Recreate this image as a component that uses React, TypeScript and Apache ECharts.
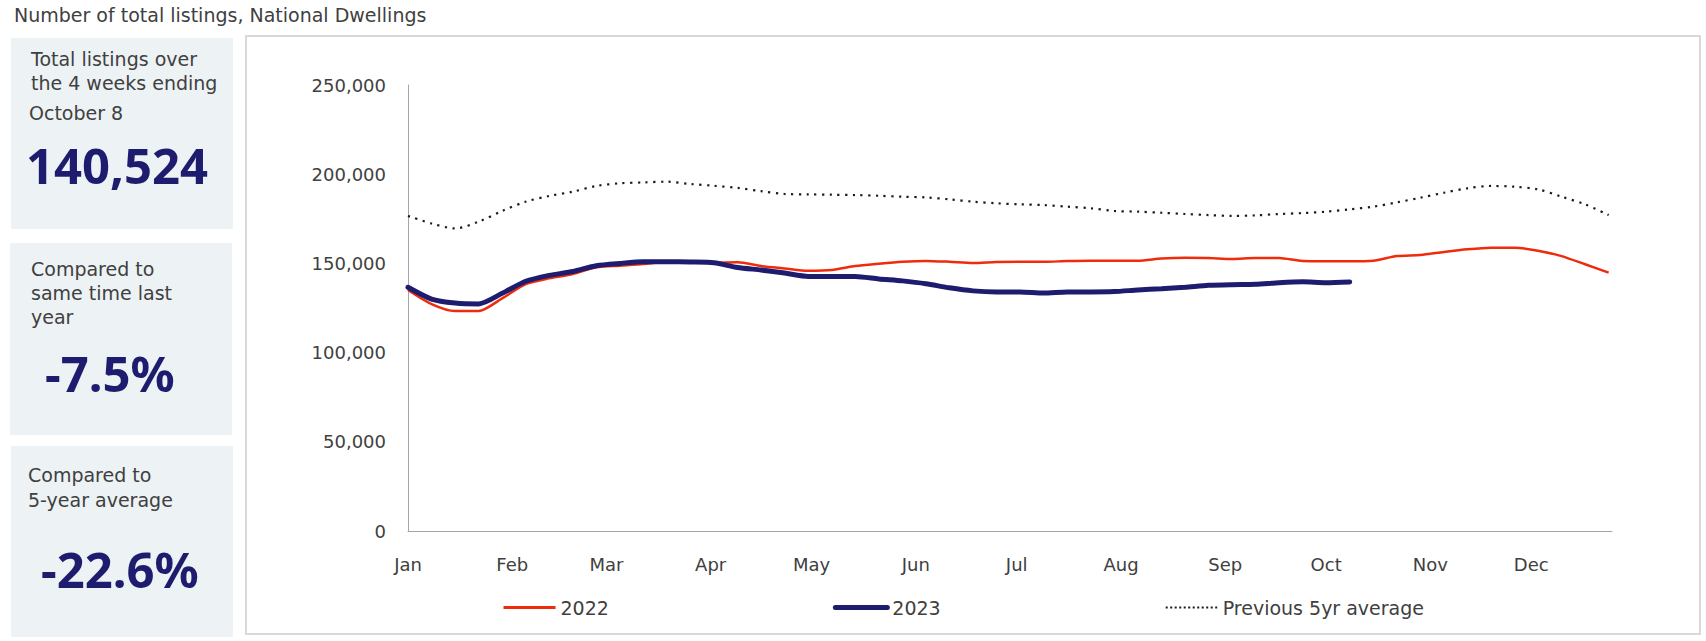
import React, { useEffect, useRef } from "react";
import * as echarts from "echarts";

const weeks = [
  "2023-01-01", "2023-01-08", "2023-01-15", "2023-01-22", "2023-01-29",
  "2023-02-05", "2023-02-12", "2023-02-19", "2023-02-26",
  "2023-03-05", "2023-03-12", "2023-03-19", "2023-03-26",
  "2023-04-02", "2023-04-09", "2023-04-16", "2023-04-23", "2023-04-30",
  "2023-05-07", "2023-05-14", "2023-05-21", "2023-05-28",
  "2023-06-04", "2023-06-11", "2023-06-18", "2023-06-25",
  "2023-07-02", "2023-07-09", "2023-07-16", "2023-07-23", "2023-07-30",
  "2023-08-06", "2023-08-13", "2023-08-20", "2023-08-27",
  "2023-09-03", "2023-09-10", "2023-09-17", "2023-09-24",
  "2023-10-01", "2023-10-08", "2023-10-15", "2023-10-22", "2023-10-29",
  "2023-11-05", "2023-11-12", "2023-11-19", "2023-11-26",
  "2023-12-03", "2023-12-10", "2023-12-17", "2023-12-24",
];

const listings2022 = [
  135100, 127200, 123300, 123300, 130400, 138400, 141600, 144000, 147800,
  148700, 149600, 150900, 150900, 150400, 150600, 148500, 147200, 145900,
  146300, 148500, 149800, 150900, 151400, 150900, 150200, 150800, 150900,
  150900, 151300, 151500, 151500, 151500, 152700, 153200, 153000, 152500,
  153000, 153000, 151300, 151200, 151200, 151500, 154100, 154700, 156400,
  157900, 158800, 158800, 157100, 154100, 149500, 144800,
];

const listings2023 = [
  136600, 130000, 127800, 127300, 133200, 140000, 143300, 145500, 148700,
  150000, 150900, 150900, 150800, 150400, 147700, 146300, 144600, 142700,
  142700, 142700, 141300, 140200, 138600, 136300, 134600, 134000, 134000,
  133400, 134000, 134000, 134200, 135100, 135800, 136600, 137700, 138100,
  138300, 139200, 139700, 139200, 139600,
];

const avg5yr = [
  176600, 172400, 169600, 173400, 179400, 184600, 187800, 190200, 193400,
  194900, 195400, 195800, 194500, 193500, 192300, 190500, 188900, 188700,
  188500, 188300, 187900, 187400, 187000, 185900, 184600, 183700, 183100,
  182700, 181800, 180900, 179400, 179000, 178400, 177700, 177100, 176600,
  176900, 177700, 178200, 179000, 180300, 181800, 184200, 186800, 189600,
  192100, 193400, 193000, 191500, 187400, 183100, 177100,
];

const monthLabels = ["Jan", "Feb", "Mar", "Apr", "May", "Jun", "Jul", "Aug", "Sep", "Oct", "Nov", "Dec"];
const seriesNames = ["2022", "2023", "Previous 5yr average"];

const titleText = "Number of total listings, National Dwellings";
const box1Lines = ["Total listings over", "the 4 weeks ending", "October 8"];
const box1Value = "140,524";
const box2Lines = ["Compared to", "same time last", "year"];
const box2Value = "-7.5%";
const box3Lines = ["Compared to", "5-year average"];
const box3Value = "-22.6%";

const FONT = "'DejaVu Sans', 'Noto Sans', sans-serif";
const BIG_FONT = "'Noto Sans', 'DejaVu Sans', sans-serif";
const NAVY = "#1e1c6e";
const RED = "#ee2b0b";
const DOT = "#1a1a1a";
const TEXT = "#404040";
const BOX = "#edf2f5";

function txt(
  text: string,
  x: number,
  y: number,
  size: number,
  color: string,
  weight: string | number = "normal",
  family: string = FONT
) {
  return {
    type: "text",
    x,
    y,
    silent: true,
    style: {
      text,
      fill: color,
      fontSize: size,
      fontFamily: family,
      fontWeight: weight,
      align: "left",
      textAlign: "left",
      verticalAlign: "middle",
      textVerticalAlign: "middle",
    },
  };
}

export default function App() {
  const ref = useRef<HTMLDivElement>(null);

  useEffect(() => {
    const chart = echarts.init(ref.current!, null, { renderer: "svg" });

    const graphic: any[] = [
      {
        type: "rect",
        silent: true,
        z: 0,
        shape: { x: 246, y: 36, width: 1454, height: 598 },
        style: { fill: "none", stroke: "#d9d9d9", lineWidth: 2 },
      },
      { type: "rect", silent: true, z: 0, shape: { x: 11, y: 38, width: 222, height: 191 }, style: { fill: BOX } },
      { type: "rect", silent: true, z: 0, shape: { x: 10, y: 243, width: 222, height: 192 }, style: { fill: BOX } },
      { type: "rect", silent: true, z: 0, shape: { x: 11, y: 446, width: 222, height: 191 }, style: { fill: BOX } },
      txt(titleText, 14, 15, 19, TEXT),
      txt(box1Lines[0], 31, 59, 19, TEXT),
      txt(box1Lines[1], 31, 83, 19, TEXT),
      txt(box1Lines[2], 29, 113, 19, TEXT),
      txt(box1Value, 26, 165, 49, NAVY, "bold", BIG_FONT),
      txt(box2Lines[0], 31, 269, 19, TEXT),
      txt(box2Lines[1], 31, 293, 19, TEXT),
      txt(box2Lines[2], 31, 317, 19, TEXT),
      txt(box2Value, 45, 373, 49, NAVY, "bold", BIG_FONT),
      txt(box3Lines[0], 28, 475, 19, TEXT),
      txt(box3Lines[1], 28, 500, 19, TEXT),
      txt(box3Value, 41, 569, 49, NAVY, "bold", BIG_FONT),
    ];

    const toPairs = (vals: number[]) => vals.map((v, i) => [weeks[i], v]);

    chart.setOption({
      animation: false,
      backgroundColor: "#ffffff",
      textStyle: { fontFamily: FONT },
      grid: { left: 408, right: 94, top: 85, bottom: 110, containLabel: false, outerBoundsMode: "none" },
      legend: {
        data: [
          { name: seriesNames[0], lineStyle: { width: 3, color: RED } },
          { name: seriesNames[1], lineStyle: { width: 5, color: NAVY } },
          { name: seriesNames[2], lineStyle: { width: 2, color: DOT, type: [2, 2.5] } },
        ],
        left: 497,
        top: 593,
        itemWidth: 52,
        itemHeight: 14,
        itemGap: 224,
        itemStyle: { opacity: 0 },
        textStyle: { fontSize: 19, color: TEXT, fontFamily: FONT },
      },
      xAxis: {
        type: "time",
        min: new Date(2023, 0, 1).getTime(),
        max: new Date(2023, 11, 25).getTime(),
        splitNumber: 12,
        axisLine: { show: true, lineStyle: { color: "#a6a6a6", width: 1 } },
        axisTick: { show: false },
        splitLine: { show: false },
        axisLabel: {
          color: TEXT,
          fontSize: 18,
          fontFamily: FONT,
          margin: 24,
          hideOverlap: false,
          formatter: (v: number) => monthLabels[new Date(v).getMonth()],
        },
      },
      yAxis: {
        type: "value",
        min: 0,
        max: 250000,
        interval: 50000,
        axisLine: { show: true, lineStyle: { color: "#a6a6a6", width: 1 } },
        axisTick: { show: false },
        splitLine: { show: false },
        axisLabel: {
          color: TEXT,
          fontSize: 18,
          fontFamily: FONT,
          margin: 22,
          formatter: (v: number) => v.toLocaleString("en-US"),
        },
      },
      series: [
        {
          name: seriesNames[0],
          type: "line",
          data: toPairs(listings2022),
          symbol: "none",
          smooth: 0.25,
          z: 3,
          lineStyle: { color: RED, width: 2.5 },
          itemStyle: { color: RED },
        },
        {
          name: seriesNames[1],
          type: "line",
          data: toPairs(listings2023),
          symbol: "none",
          smooth: 0.25,
          z: 4,
          lineStyle: { color: NAVY, width: 5, cap: "round" },
          itemStyle: { color: NAVY },
        },
        {
          name: seriesNames[2],
          type: "line",
          data: toPairs(avg5yr),
          symbol: "none",
          smooth: 0.3,
          z: 2,
          lineStyle: { color: DOT, width: 2.2, type: [2.2, 5.5] },
          itemStyle: { color: DOT },
        },
      ],
      graphic,
    });

    return () => chart.dispose();
  }, []);

  return (
    <div
      ref={ref}
      style={{ position: "absolute", left: 0, top: 0, width: 1706, height: 641 }}
    />
  );
}
